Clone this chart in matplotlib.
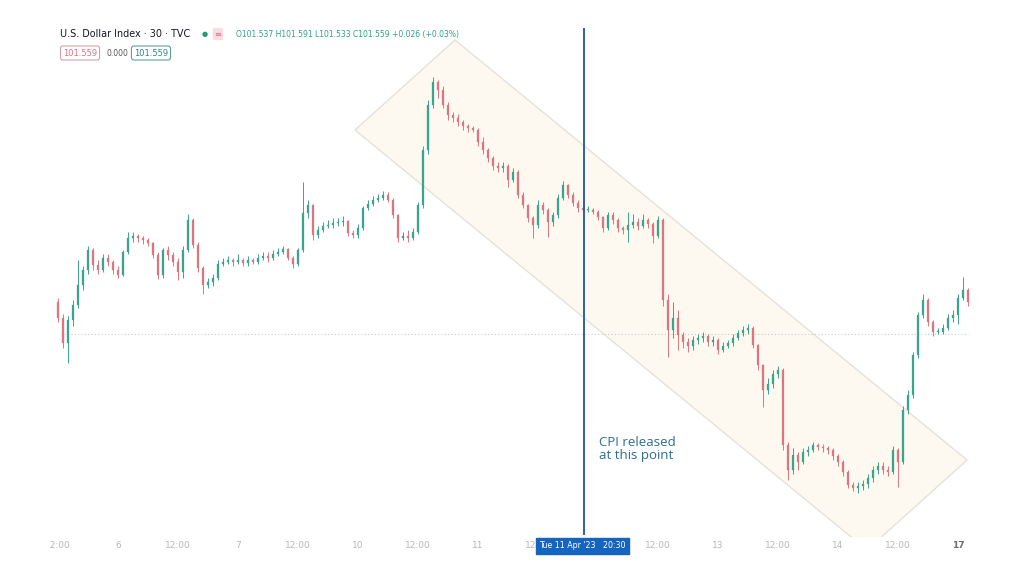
import matplotlib
matplotlib.use("Agg")
import matplotlib.pyplot as plt
from matplotlib.patches import Polygon, Rectangle
import numpy as np

# hourly candles of the U.S. Dollar Index, x = trading hours since 5 Apr 00:00
START_HOUR = 12
FIRST_OPEN = 101.72
CLOSE = [
    101.64, 101.515, 101.63, 101.705, 101.805, 101.88, 101.98, 101.905, 101.88, 101.94,
    101.92, 101.88, 101.855, 101.97, 102.04, 102.05, 102.04, 102.03, 102.015, 101.955,
    101.855, 101.98, 101.955, 101.92, 101.87, 101.98, 102.13, 102.005, 101.89, 101.805,
    101.82, 101.84, 101.91, 101.92, 101.93, 101.92, 101.93, 101.915, 101.93, 101.92,
    101.94, 101.95, 101.94, 101.96, 101.97, 101.985, 101.94, 101.91, 101.98, 102.165,
    102.205, 102.055, 102.08, 102.10, 102.105, 102.115, 102.12, 102.125, 102.065, 102.055,
    102.09, 102.19, 102.21, 102.23, 102.24, 102.255, 102.23, 102.155, 102.04, 102.05,
    102.04, 102.07, 102.205, 102.48, 102.705, 102.82, 102.78, 102.705, 102.655, 102.64,
    102.62, 102.60, 102.59, 102.58, 102.52, 102.48, 102.44, 102.40, 102.39, 102.40,
    102.33, 102.37, 102.255, 102.205, 102.14, 102.105, 102.205, 102.18, 102.12, 102.155,
    102.24, 102.305, 102.255, 102.215, 102.19, 102.18, 102.18, 102.17, 102.145, 102.09,
    102.155, 102.13, 102.09, 102.08, 102.105, 102.12, 102.10, 102.13, 102.11, 102.05,
    102.13, 101.73, 101.58, 101.64, 101.555, 101.52, 101.50, 101.53, 101.54, 101.55,
    101.52, 101.53, 101.48, 101.50, 101.515, 101.54, 101.565, 101.58, 101.59, 101.505,
    101.405, 101.28, 101.31, 101.36, 101.38, 101.005, 100.88, 100.955, 100.92, 100.97,
    100.98, 101.005, 100.995, 100.99, 100.98, 100.95, 100.92, 100.87, 100.805, 100.79,
    100.80, 100.81, 100.84, 100.88, 100.90, 100.88, 100.87, 100.98, 100.92, 101.18,
    101.255, 101.455, 101.655, 101.73, 101.62, 101.57, 101.57, 101.59, 101.64, 101.655,
    101.74, 101.78, 101.72,
]
HIGH = [
    101.74, 101.66, 101.65, 101.73, 101.93, 101.90, 102.00, 101.99, 101.93, 101.96,
    101.96, 101.93, 101.90, 101.98, 102.07, 102.07, 102.06, 102.05, 102.04, 102.02,
    101.97, 101.99, 102.00, 101.97, 101.94, 102.00, 102.16, 102.14, 102.02, 101.90,
    101.84, 101.86, 101.93, 101.94, 101.95, 101.94, 101.96, 101.94, 101.95, 101.94,
    101.96, 101.97, 101.97, 101.98, 101.99, 102.00, 101.99, 101.95, 101.99, 102.32,
    102.23, 102.21, 102.10, 102.12, 102.13, 102.14, 102.14, 102.15, 102.13, 102.08,
    102.11, 102.20, 102.23, 102.25, 102.26, 102.275, 102.27, 102.24, 102.16, 102.07,
    102.08, 102.09, 102.22, 102.50, 102.73, 102.845, 102.83, 102.80, 102.72, 102.67,
    102.66, 102.63, 102.61, 102.60, 102.59, 102.545, 102.49, 102.45, 102.42, 102.42,
    102.41, 102.39, 102.38, 102.27, 102.21, 102.15, 102.23, 102.22, 102.19, 102.17,
    102.26, 102.325, 102.31, 102.27, 102.23, 102.20, 102.20, 102.19, 102.18, 102.15,
    102.17, 102.17, 102.14, 102.10, 102.17, 102.16, 102.14, 102.16, 102.14, 102.12,
    102.15, 102.14, 101.76, 101.72, 101.68, 101.57, 101.54, 101.55, 101.56, 101.57,
    101.56, 101.55, 101.54, 101.52, 101.53, 101.56, 101.58, 101.60, 101.61, 101.60,
    101.51, 101.41, 101.34, 101.38, 101.40, 101.39, 101.02, 100.99, 100.97, 100.99,
    101.00, 101.02, 101.015, 101.01, 101.00, 100.99, 100.96, 100.93, 100.88, 100.82,
    100.82, 100.83, 100.86, 100.90, 100.92, 100.92, 100.90, 101.00, 100.99, 101.20,
    101.28, 101.47, 101.67, 101.76, 101.74, 101.63, 101.59, 101.61, 101.66, 101.68,
    101.76, 101.845, 101.79,
]
LOW = [
    101.62, 101.49, 101.415, 101.60, 101.69, 101.78, 101.86, 101.88, 101.86, 101.87,
    101.90, 101.86, 101.84, 101.85, 101.96, 102.02, 102.02, 102.01, 102.00, 101.94,
    101.835, 101.84, 101.93, 101.90, 101.83, 101.84, 101.97, 101.99, 101.87, 101.76,
    101.79, 101.80, 101.83, 101.90, 101.91, 101.90, 101.91, 101.90, 101.90, 101.91,
    101.91, 101.93, 101.92, 101.93, 101.95, 101.96, 101.93, 101.89, 101.90, 101.97,
    102.14, 102.03, 102.04, 102.07, 102.09, 102.09, 102.10, 102.10, 102.05, 102.04,
    102.04, 102.08, 102.18, 102.20, 102.22, 102.23, 102.22, 102.14, 102.02, 102.03,
    102.02, 102.03, 102.06, 102.19, 102.46, 102.69, 102.74, 102.69, 102.63, 102.62,
    102.60, 102.58, 102.57, 102.57, 102.50, 102.46, 102.42, 102.38, 102.37, 102.37,
    102.295, 102.32, 102.24, 102.19, 102.12, 102.04, 102.09, 102.16, 102.045, 102.10,
    102.14, 102.23, 102.24, 102.20, 102.17, 102.17, 102.17, 102.16, 102.13, 102.07,
    102.08, 102.11, 102.07, 102.06, 102.02, 102.09, 102.08, 102.09, 102.09, 102.015,
    102.04, 101.70, 101.445, 101.54, 101.48, 101.49, 101.47, 101.48, 101.51, 101.52,
    101.50, 101.50, 101.46, 101.47, 101.49, 101.50, 101.53, 101.55, 101.56, 101.49,
    101.38, 101.195, 101.26, 101.29, 101.34, 100.98, 100.83, 100.86, 100.88, 100.91,
    100.95, 100.97, 100.98, 100.97, 100.96, 100.93, 100.90, 100.85, 100.79, 100.775,
    100.765, 100.78, 100.79, 100.82, 100.86, 100.86, 100.85, 100.86, 100.795, 100.91,
    101.16, 101.24, 101.44, 101.64, 101.60, 101.55, 101.56, 101.56, 101.58, 101.62,
    101.61, 101.73, 101.70,
]
LAST_PRICE = 101.559

# time axis labels (hours since 5 Apr 00:00, weekend skipped); day 12 sits under the cursor label
TICK_HOURS = [12, 24, 36, 48, 60, 72, 84, 96, 108, 132, 144, 156, 168, 180, 192]
TICK_LABELS = ["12:00", "6", "12:00", "7", "12:00", "10", "12:00", "11", "12:00",
               "12:00", "13", "12:00", "14", "12:00", "17"]
CPI_HOUR = 117.2
CPI_LABEL = "Tue 11 Apr '23   20:30"

# downward channel drawn on the chart: (hour, price) corners
CHANNEL_H = [71.4, 91.4, 193.8, 173.8]
CHANNEL_P = [102.58, 103.03, 100.93, 100.48]

UP = "#3aa58e"
DOWN = "#dd7580"

fig = plt.figure(figsize=(10.24, 5.76), dpi=100)
ax = fig.add_axes([50 / 1024, 0, 925 / 1024, 1])
ax.set_xlim(10.4, 195.4)
ax.set_ylim(100.35, 103.23)
ax.axis("off")

# channel
ax.add_patch(Polygon(list(zip(CHANNEL_H, CHANNEL_P)), closed=True,
                     facecolor="#fef9f0", edgecolor="#e6e2da", lw=1.0, zorder=1))

# dotted last price line
ax.axhline(LAST_PRICE, xmin=0.012, xmax=0.992, color="#c9c9c9", ls=(0, (1, 2)), lw=0.8, zorder=2)

# candles
opens = [FIRST_OPEN] + CLOSE[:-1]
xs = np.arange(len(CLOSE)) + START_HOUR
for x, o, c, h, l in zip(xs, opens, CLOSE, HIGH, LOW):
    col = UP if c >= o else DOWN
    ax.vlines(x, l, h, color=col, lw=0.7, zorder=3)
    bottom = min(o, c)
    height = max(abs(c - o), 0.005)
    ax.bar(x, height, bottom=bottom, width=0.5, color=col, edgecolor=col, lw=0.2, zorder=4)

# CPI vertical line
ax.vlines(CPI_HOUR, 100.555, 103.09, color="#2a62a8", lw=1.4, zorder=5)

# time axis strip
trans = ax.get_xaxis_transform()
ax.add_patch(Rectangle((10.4, 0), 185, 39 / 576, transform=trans,
                       facecolor="white", edgecolor="none", zorder=6))
for hr, lab in zip(TICK_HOURS, TICK_LABELS):
    bold = lab == "17"
    ax.text(hr, 30 / 576, lab, transform=trans, ha="center", va="center",
            fontsize=6.5, color="#6a6d78" if bold else "#b4b6bc",
            fontweight="bold" if bold else "normal", clip_on=True, zorder=7)
ax.text(CPI_HOUR - 0.3, 30 / 576, CPI_LABEL, transform=trans, ha="center", va="center",
        fontsize=5.7, color="white", zorder=9,
        bbox=dict(boxstyle="square,pad=0.4", facecolor="#1565c0", edgecolor="#1565c0"))

# annotation
ax.text(CPI_HOUR + 3.0, 100.985, "CPI released\nat this point", family="Open Sans",
        fontsize=9.5, color="#2b6f8e", ha="left", va="center", linespacing=1.0, zorder=8)

# header
fig.text(60 / 1024, 1 - 34 / 576, "U.S. Dollar Index · 30 · TVC", fontsize=6.9,
         color="#131722", va="center")
fig.text(205 / 1024, 1 - 34 / 576, "●", fontsize=5, color="#1f9d6e", va="center", ha="center")
fig.text(218 / 1024, 1 - 34 / 576, "≡", fontsize=6, color="#e06d7d", va="center", ha="center",
         bbox=dict(boxstyle="round,pad=0.2", facecolor="#f8dde2", edgecolor="none"))
fig.text(236 / 1024, 1 - 35 / 576,
         "O101.537 H101.591 L101.533 C101.559 +0.026 (+0.03%)",
         fontsize=5.5, color="#2aa186", va="center")
fig.text(80 / 1024, 1 - 53 / 576, "101.559", fontsize=6, color="#d9727f", va="center", ha="center",
         bbox=dict(boxstyle="round,pad=0.3", facecolor="white", edgecolor="#d9a0a8", lw=0.8))
fig.text(117 / 1024, 1 - 53 / 576, "0.000", fontsize=5.5, color="#555", va="center", ha="center")
fig.text(151 / 1024, 1 - 53 / 576, "101.559", fontsize=6, color="#2a8a80", va="center", ha="center",
         bbox=dict(boxstyle="round,pad=0.3", facecolor="white", edgecolor="#5f9f98", lw=0.8))

fig.savefig("out.png", dpi=100, facecolor="white")
